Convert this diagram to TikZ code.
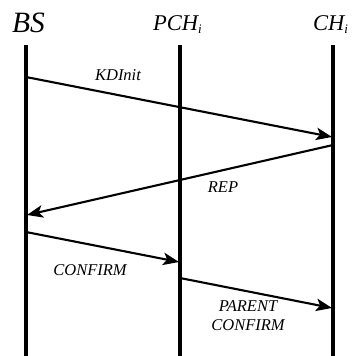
\documentclass[tikz,border=0pt]{standalone}
\usepackage{fontspec}
\setmainfont{Liberation Serif}
\usetikzlibrary{arrows.meta}
\newcommand{\subi}{\raisebox{-3.5pt}{\fontsize{13}{13}\selectfont\itshape i}}
\begin{document}
\begin{tikzpicture}[x=1pt,y=-1pt,
  life/.style={line width=3.8pt},
  msg/.style={line width=2.1pt,-{Stealth[length=16pt,width=12.5pt,inset=4pt]}},
  lbl/.style={font=\itshape\fontsize{16.5}{19}\selectfont,inner sep=0pt,align=center},
  head/.style={font=\itshape\fontsize{22.5}{24}\selectfont,inner sep=0pt,anchor=base west}]
\useasboundingbox (0,0) rectangle (353,356);
\node[head,font=\itshape\fontsize{29.5}{30}\selectfont] (bs) at (12,32) {BS};
\node[head] (pch) at (153,30) {PCH\subi};
\node[head] (ch) at (313,30) {CH\subi};
\coordinate (bsT) at (26,45); \coordinate (bsB) at (26,356);
\coordinate (pchT) at (180,45); \coordinate (pchB) at (180,356);
\coordinate (chT) at (333,45); \coordinate (chB) at (333,356);
\draw[life] (bsT) -- (bsB);
\draw[life] (pchT) -- (pchB);
\draw[life] (chT) -- (chB);
\coordinate (a1) at (26,77); \coordinate (a2) at (332,137);
\coordinate (b1) at (333,145); \coordinate (b2) at (27,215);
\coordinate (c1) at (26,232); \coordinate (c2) at (179,262);
\coordinate (d1) at (180,278); \coordinate (d2) at (332,308);
\draw[msg] (a1) -- (a2);
\draw[msg] (b1) -- (b2);
\draw[msg] (c1) -- (c2);
\draw[msg] (d1) -- (d2);
\node[lbl] (l1) at (118,75) {KDInit};
\node[lbl] (l2) at (223,187) {REP};
\node[lbl] (l3) at (90,270) {CONFIRM};
\node[lbl] (l4) at (248,316) {PARENT\\CONFIRM};
\end{tikzpicture}
\end{document}
